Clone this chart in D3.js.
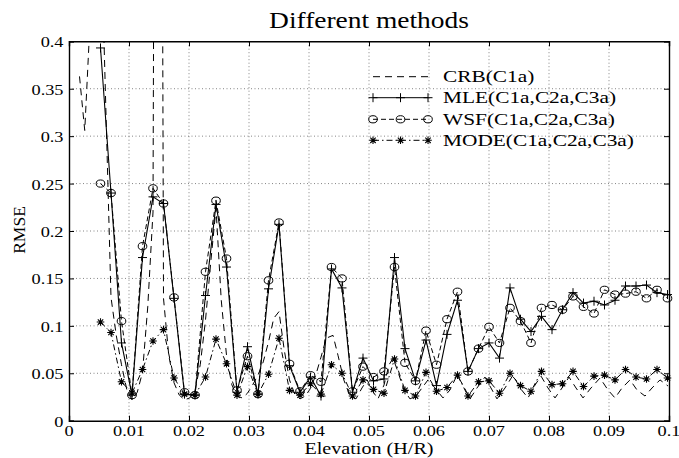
<!DOCTYPE html>
<html lang="en">
<head>
<meta charset="UTF-8">
<title>Different methods</title>
<script src="https://d3js.org/d3.v7.min.js"></script>
<style>
  body { margin: 0; background: #fff; }
  text { font-family: "Liberation Serif", "Times New Roman", serif; fill: #000; }
</style>
</head>
<body>
<div id="chart"></div>
<script>
// elevation grid (H/R) shared by MLE, WSF, MODE
const elev = [0.00525, 0.007, 0.00875, 0.0105, 0.01225, 0.014, 0.01575, 0.0175, 0.01925, 0.021,
  0.02275, 0.0245, 0.02625, 0.028, 0.02975, 0.0315, 0.03325, 0.035, 0.03675, 0.0385,
  0.04025, 0.042, 0.04375, 0.0455, 0.04725, 0.049, 0.05075, 0.0525, 0.05425, 0.056,
  0.05775, 0.0595, 0.06125, 0.063, 0.06475, 0.0665, 0.06825, 0.07, 0.07175, 0.0735,
  0.07525, 0.077, 0.07875, 0.0805, 0.08225, 0.084, 0.08575, 0.0875, 0.08925, 0.091,
  0.09275, 0.0945, 0.09625, 0.098, 0.09975];

const mle = [0.393, 0.240, 0.082, 0.027, 0.172, 0.236, 0.229, 0.129, 0.028, 0.027,
  0.132, 0.228, 0.162, 0.030, 0.078, 0.028, 0.139, 0.207, 0.058, 0.030,
  0.046, 0.026, 0.160, 0.140, 0.030, 0.066, 0.042, 0.044, 0.172, 0.076,
  0.042, 0.085, 0.037, 0.091, 0.127, 0.052, 0.076, 0.082, 0.066, 0.140,
  0.107, 0.094, 0.110, 0.096, 0.117, 0.135, 0.124, 0.126, 0.122, 0.127,
  0.142, 0.142, 0.143, 0.135, 0.133];

const wsf = [0.250, 0.240, 0.105, 0.027, 0.184, 0.245, 0.229, 0.130, 0.030, 0.027,
  0.157, 0.232, 0.171, 0.032, 0.068, 0.028, 0.148, 0.209, 0.060, 0.031,
  0.048, 0.041, 0.162, 0.150, 0.031, 0.057, 0.046, 0.052, 0.162, 0.061,
  0.042, 0.095, 0.059, 0.107, 0.136, 0.052, 0.076, 0.099, 0.082, 0.119,
  0.105, 0.082, 0.119, 0.122, 0.117, 0.131, 0.120, 0.113, 0.138, 0.133,
  0.134, 0.136, 0.129, 0.138, 0.129];

const mode = [0.104, 0.093, 0.041, 0.029, 0.054, 0.084, 0.096, 0.045, 0.028, 0.027,
  0.046, 0.086, 0.060, 0.027, 0.057, 0.028, 0.049, 0.087, 0.032, 0.027,
  0.039, 0.028, 0.059, 0.050, 0.026, 0.043, 0.033, 0.029, 0.065, 0.032,
  0.026, 0.051, 0.031, 0.035, 0.048, 0.026, 0.041, 0.042, 0.029, 0.050,
  0.037, 0.031, 0.052, 0.038, 0.039, 0.052, 0.036, 0.047, 0.048, 0.043,
  0.054, 0.046, 0.044, 0.054, 0.045];

// CRB is drawn on its own, finer grid
const crbX = [0.00175, 0.002625, 0.0035, 0.004375, 0.00525, 0.006125, 0.007, 0.007875, 0.00875, 0.009625,
  0.0105, 0.011375, 0.01225, 0.013125, 0.014, 0.014875, 0.01575, 0.016625, 0.0175, 0.018375,
  0.01925, 0.020125, 0.021, 0.021875, 0.02275, 0.023625, 0.0245, 0.025375, 0.02625, 0.027125,
  0.028, 0.028875, 0.02975, 0.030625, 0.0315, 0.032375, 0.03325, 0.034125, 0.035, 0.035875,
  0.03675, 0.037625, 0.0385, 0.039375, 0.04025, 0.041125, 0.042, 0.042875, 0.044, 0.04483,
  0.0458, 0.04683, 0.04783, 0.04883, 0.0497, 0.0505, 0.0515, 0.0525, 0.05333, 0.054,
  0.05483, 0.05583, 0.05683, 0.05783, 0.05883, 0.05983, 0.061, 0.06233, 0.0635, 0.06467,
  0.06567, 0.06683, 0.068, 0.06933, 0.07033, 0.07133, 0.07267, 0.074, 0.07517, 0.0765,
  0.07767, 0.07867, 0.07983, 0.081, 0.08217, 0.08333, 0.0845, 0.08567, 0.087, 0.0885,
  0.08983, 0.091, 0.09217, 0.0935, 0.09467, 0.096, 0.09717, 0.0985, 0.09983];
const crb = [0.363, 0.306, 0.42, 1.2, 0.535, 0.333, 0.130, 0.090, 0.059, 0.033,
  0.022, 0.030, 0.051, 0.120, 0.220, 2.0, 0.129, 0.069, 0.040, 0.027,
  0.022, 0.024, 0.032, 0.059, 0.106, 0.167, 0.224, 0.127, 0.069, 0.038,
  0.026, 0.024, 0.029, 0.038, 0.048, 0.062, 0.083, 0.108, 0.115, 0.0745,
  0.043, 0.028, 0.023, 0.026, 0.034, 0.048, 0.067, 0.087, 0.090, 0.069,
  0.043, 0.026, 0.023, 0.0345, 0.043, 0.032, 0.023, 0.0376, 0.0587, 0.066,
  0.0514, 0.0324, 0.023, 0.026, 0.0345, 0.043, 0.0345, 0.024, 0.0324, 0.048,
  0.0376, 0.023, 0.0345, 0.046, 0.0345, 0.023, 0.0345, 0.048, 0.0345, 0.024,
  0.0376, 0.047, 0.0345, 0.024, 0.0345, 0.046, 0.0345, 0.024, 0.0345, 0.045,
  0.0324, 0.024, 0.0345, 0.043, 0.0324, 0.026, 0.0345, 0.043, 0.0366];

const xTicks = [0, 0.01, 0.02, 0.03, 0.04, 0.05, 0.06, 0.07, 0.08, 0.09, 0.1];
const yTicks = [0, 0.05, 0.1, 0.15, 0.2, 0.25, 0.3, 0.35, 0.4];
const legendLabels = ["CRB(C1a)", "MLE(C1a,C2a,C3a)", "WSF(C1a,C2a,C3a)", "MODE(C1a,C2a,C3a)"];

const W = 679, H = 458;
const margin = { top: 41.3, right: 10, bottom: 37.3, left: 69 };
const x = d3.scaleLinear().domain([0, 0.1]).range([margin.left, W - margin.right]);
const y = d3.scaleLinear().domain([0, 0.4]).range([H - margin.bottom, margin.top]);
const SX = 1.22; // the original figure's text is a bit wider than the font

const svg = d3.select("#chart").append("svg")
  .attr("width", W).attr("height", H);
svg.append("rect").attr("width", W).attr("height", H).attr("fill", "#fff");

// text helper, stretched horizontally
function label(px, py, str, size, anchor) {
  return svg.append("g").attr("transform", `translate(${px},${py}) scale(${SX},1)`)
    .append("text").attr("text-anchor", anchor || "start")
    .style("font-size", size + "px").text(str);
}

svg.append("clipPath").attr("id", "plot")
  .append("rect")
  .attr("x", x(0)).attr("y", y(0.4))
  .attr("width", x(0.1) - x(0)).attr("height", y(0) - y(0.4));

// dotted grid
const grid = svg.append("g").attr("stroke", "#666").attr("stroke-width", 0.8)
  .attr("stroke-dasharray", "1,2.5");
xTicks.slice(1, -1).forEach(t => {
  grid.append("line").attr("x1", x(t)).attr("x2", x(t)).attr("y1", y(0)).attr("y2", y(0.4));
});
yTicks.slice(1, -1).forEach(t => {
  grid.append("line").attr("x1", x(0)).attr("x2", x(0.1)).attr("y1", y(t)).attr("y2", y(t));
});

// axes (ticks inward, box on all sides)
svg.append("g").attr("transform", `translate(0,${y(0)})`)
  .call(d3.axisBottom(x).tickValues(xTicks).tickSize(-5).tickFormat(""));
svg.append("g").attr("transform", `translate(0,${y(0.4)})`)
  .call(d3.axisTop(x).tickValues(xTicks).tickSize(-5).tickFormat(""));
svg.append("g").attr("transform", `translate(${x(0)},0)`)
  .call(d3.axisLeft(y).tickValues(yTicks).tickSize(-5).tickFormat(""));
svg.append("g").attr("transform", `translate(${x(0.1)},0)`)
  .call(d3.axisRight(y).tickValues(yTicks).tickSize(-5).tickFormat(""));
svg.selectAll(".domain").attr("stroke", "#000").attr("stroke-width", 1.4);
svg.selectAll(".tick line").attr("stroke", "#000");

const fmt = d => d === 0 ? "0" : String(+d.toFixed(3));
xTicks.forEach(t => label(x(t), 436, fmt(t), 15, "middle"));
yTicks.forEach(t => label(63.5, y(t) + 6, fmt(t), 15, "end"));

// series
const plot = svg.append("g").attr("clip-path", "url(#plot)");
const line = d3.line().x(d => x(d[0])).y(d => y(d[1]));

plot.append("path").datum(crbX.map((v, i) => [v, crb[i]]))
  .attr("d", line).attr("fill", "none").attr("stroke", "#000")
  .attr("stroke-width", 1).attr("stroke-dasharray", "7,5");

const mleData = elev.map((v, i) => [v, mle[i]]);
const wsfData = elev.map((v, i) => [v, wsf[i]]);
const modeData = elev.map((v, i) => [v, mode[i]]);

plot.append("path").datum(modeData).attr("d", line).attr("fill", "none")
  .attr("stroke", "#000").attr("stroke-width", 1).attr("stroke-dasharray", "6,3,1.5,3");
plot.append("path").datum(wsfData).attr("d", line).attr("fill", "none")
  .attr("stroke", "#000").attr("stroke-width", 1).attr("stroke-dasharray", "5,3");
plot.append("path").datum(mleData).attr("d", line).attr("fill", "none")
  .attr("stroke", "#000").attr("stroke-width", 1.1);

function plus(g, cx, cy) {
  g.append("path").attr("d", `M${cx - 4.5},${cy}H${cx + 4.5}M${cx},${cy - 4.5}V${cy + 4.5}`)
    .attr("stroke", "#000").attr("stroke-width", 1);
}
function circ(g, cx, cy) {
  g.append("ellipse").attr("cx", cx).attr("cy", cy).attr("rx", 4.3).attr("ry", 3.6)
    .attr("fill", "none").attr("stroke", "#000").attr("stroke-width", 1);
}
function star(g, cx, cy) {
  const r = 3.8, d = 2.7;
  g.append("path")
    .attr("d", `M${cx - r},${cy}H${cx + r}M${cx},${cy - r}V${cy + r}` +
      `M${cx - d},${cy - d}L${cx + d},${cy + d}M${cx - d},${cy + d}L${cx + d},${cy - d}`)
    .attr("stroke", "#000").attr("stroke-width", 1.1);
}

const marks = svg.append("g");
modeData.forEach(d => star(marks, x(d[0]), y(d[1])));
wsfData.forEach(d => circ(marks, x(d[0]), y(d[1])));
mleData.forEach(d => plus(marks, x(d[0]), y(d[1])));

// legend (no box)
const lg = svg.append("g");
const lx0 = 373, lx1 = 428, ly = [76.7, 97.7, 119.3, 140.3];
const styles = ["7,5", null, "5,3", "6,3,1.5,3"];
const markFns = [null, plus, circ, star];
legendLabels.forEach((name, i) => {
  lg.append("line").attr("x1", lx0).attr("x2", lx1).attr("y1", ly[i]).attr("y2", ly[i])
    .attr("stroke", "#000").attr("stroke-width", 1)
    .attr("stroke-dasharray", styles[i]);
  if (markFns[i]) [lx0, (lx0 + lx1) / 2, lx1].forEach(px => markFns[i](lg, px, ly[i]));
  label(443, ly[i] + 5.5, name, 17.5);
});

// title and axis labels
label(x(0.05), 28, "Different methods", 22.5, "middle");
label(x(0.05), 454.3, "Elevation (H/R)", 16.5, "middle");
svg.append("text").attr("transform", `translate(25,${y(0.2) - 1}) rotate(-90)`)
  .attr("text-anchor", "middle").style("font-size", "17.5px").text("RMSE");
</script>
</body>
</html>
